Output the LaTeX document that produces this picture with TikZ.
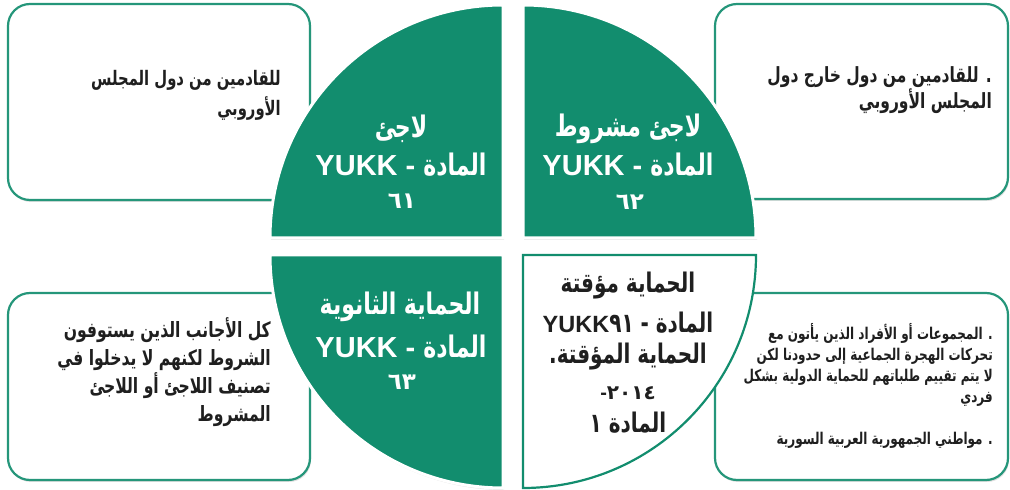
\documentclass[tikz,border=0pt]{standalone}
\usepackage{graphicx}
\usepackage{fontspec}
\setmainfont{Liberation Sans}
\newfontfamily\arabicfont[Script=Arabic]{DejaVu Sans}
\TeXXeTstate=1
\usepackage{tikz}
\usetikzlibrary{shadows}
\definecolor{statusgreen}{RGB}{18,141,110}
\colorlet{boxline}{statusgreen!92!white}
\colorlet{inktext}{black!88}
\newcommand{\artxt}[1]{\scalebox{1}[1.35]{\arabicfont\beginR #1\endR}}
\newcommand{\arnum}[1]{{\arabicfont #1}}
\tikzstyle{infobox}=[draw=boxline,line width=2.2pt,fill=white,rounded corners=22pt,
  drop shadow={shadow xshift=1pt,shadow yshift=-2pt,opacity=0.25}]
\tikzstyle{quarter}=[fill=statusgreen,draw=white,line width=3pt,
  drop shadow={shadow xshift=1pt,shadow yshift=-2pt,opacity=0.2}]
\tikzstyle{quarterwhite}=[fill=white,draw=statusgreen,line width=2.2pt]
\tikzstyle{qtitle}=[text=white,inner sep=0pt,font=\bfseries\fontsize{22}{26}\selectfont]
\tikzstyle{qarticle}=[text=white,inner sep=0pt,font=\bfseries\fontsize{29}{34}\selectfont]
\tikzstyle{qnumber}=[text=white,inner sep=0pt,font=\bfseries\fontsize{23}{28}\selectfont]
\tikzstyle{qdark}=[text=inktext,inner sep=0pt,font=\bfseries\fontsize{20}{24}\selectfont]
\tikzstyle{boxtext}=[text=inktext,inner sep=0pt,align=right,anchor=east]

\begin{document}
\begin{tikzpicture}[x=1pt,y=1pt]
\useasboundingbox (0,0) rectangle (1010,490);

% Side boxes
\draw[infobox] (8,486) rectangle (310,290);
\draw[infobox] (715,486) rectangle (1008,291);
\draw[infobox] (8,197) rectangle (310,10);
\draw[infobox] (715,197) rectangle (1008,10);

% Quarters of the circle
\path[quarter] (503,252) -- (270,252) arc[start angle=180,end angle=90,radius=233] -- cycle;
\path[quarter] (523,252) -- (523,485) arc[start angle=90,end angle=0,radius=233] -- cycle;
\path[quarter] (503,235) -- (270,235) arc[start angle=180,end angle=270,radius=233] -- cycle;
\path[quarterwhite] (523,235) -- (756,235) arc[start angle=0,end angle=-90,radius=233] -- cycle;

% Texts in the boxes
\node[boxtext,font=\bfseries\fontsize{14.8}{30}\selectfont] (tl-text) at (281,395)
  {\artxt{للقادمين من دول المجلس}\\ \artxt{الأوروبي}};
\node[boxtext,font=\bfseries\fontsize{15.5}{23}\selectfont] (tr-text) at (992,400)
  {\artxt{. للقادمين من دول خارج دول}\\ \artxt{المجلس الأوروبي}};
\node[boxtext,font=\bfseries\fontsize{15.6}{28}\selectfont] (bl-text) at (271,118)
  {\artxt{كل الأجانب الذين يستوفون}\\ \artxt{الشروط لكنهم لا يدخلوا في}\\
   \artxt{تصنيف اللاجئ أو اللاجئ}\\ \artxt{المشروط}};
\node[boxtext,font=\bfseries\fontsize{12}{21}\selectfont] (br-text) at (993,104)
  {\artxt{. المجموعات أو الأفراد الذين يأتون مع}\\
   \artxt{تحركات الهجرة الجماعية إلى حدودنا لكن}\\
   \artxt{لا يتم تقييم طلباتهم للحماية الدولية بشكل}\\
   \artxt{فردي}\\[21pt]
   \artxt{. مواطني الجمهورية العربية السورية}};

% Refugee
\node[qtitle] (q1-title) at (401,361) {\artxt{لاجئ}};
\node[qarticle] (q1-art) at (401,325) {YUKK - {\fontsize{22}{26}\selectfont\artxt{المادة}}};
\node[qnumber] (q1-num) at (402,289) {\arnum{٦١}};

% Conditional refugee
\node[qtitle] (q2-title) at (628,361) {\artxt{لاجئ مشروط}};
\node[qarticle] (q2-art) at (628,325) {YUKK - {\fontsize{22}{26}\selectfont\artxt{المادة}}};
\node[qnumber] (q2-num) at (630,288) {\arnum{٦٢}};

% Subsidiary protection
\node[qtitle] (q3-title) at (400,183) {\artxt{الحماية الثانوية}};
\node[qarticle] (q3-art) at (401,143) {YUKK - {\fontsize{22}{26}\selectfont\artxt{المادة}}};
\node[qnumber] (q3-num) at (402,108) {\arnum{٦٣}};

% Temporary protection
\node[qdark] (q4-title) at (628,204) {\artxt{الحماية مؤقتة}};
\node[qdark,font=\bfseries\fontsize{23.5}{28}\selectfont] (q4-art) at (628,167)
  {YUKK{\fontsize{20}{24}\selectfont\artxt{المادة - ٩١}}};
\node[qdark] (q4-law) at (628,133) {\artxt{الحماية المؤقتة.}};
\node[qdark] (q4-year) at (628,97) {-\arnum{٢٠١٤}};
\node[qdark] (q4-num) at (628,67) {\artxt{المادة ١}};

\end{tikzpicture}
\end{document}
